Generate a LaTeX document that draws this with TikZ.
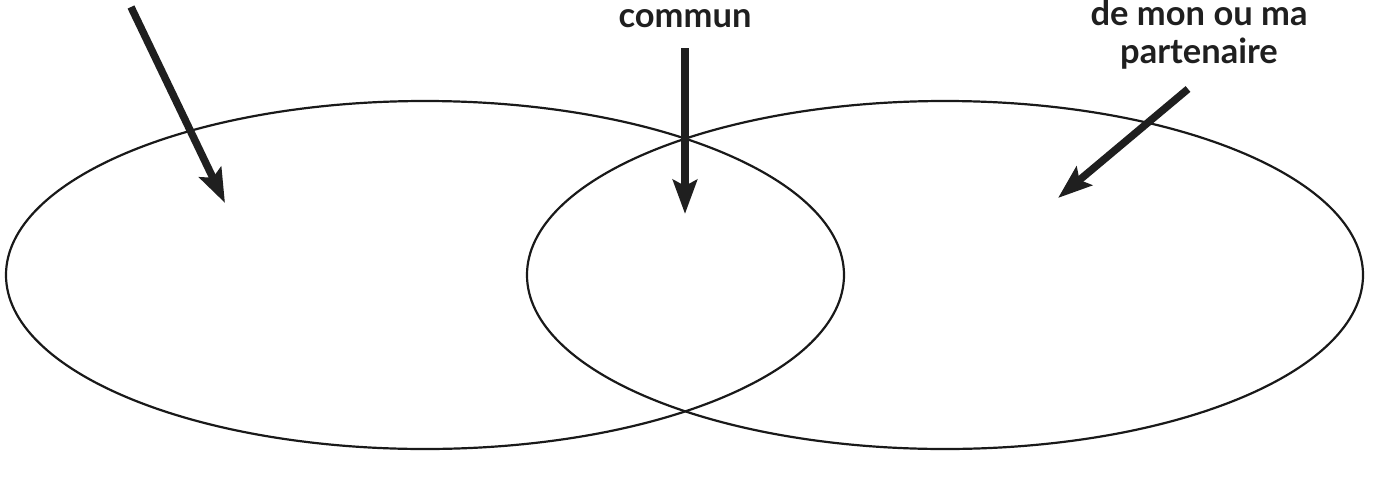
\documentclass[tikz,border=0pt]{standalone}
\usepackage{fontspec}
\setmainfont{Lato}
\usetikzlibrary{arrows.meta}
\tikzset{
  venn/.style={draw=black!90, line width=2.2pt},
  bigarrow/.style={draw=black!88, line width=7.5pt, -{Stealth[length=34pt,width=24pt,inset=6pt]}},
  lbl/.style={font=\bfseries\fontsize{34.5}{38}\selectfont, text=black!88, align=center, inner sep=0pt}
}
\begin{document}
\begin{tikzpicture}[x=1pt,y=-1pt]
\useasboundingbox (0,0) rectangle (1376,477);
\draw[venn] (425,275) ellipse [x radius=419pt, y radius=174pt];
\draw[venn] (945,275) ellipse [x radius=418pt, y radius=174pt];
\node[lbl, anchor=base] (commun) at (685,27) {commun};
\node[lbl, anchor=base] (part1) at (1199,25) {de mon ou ma};
\node[lbl, anchor=base] (part2) at (1199,63) {partenaire};
\coordinate (a1s) at (131,7);
\coordinate (a1e) at (225,203);
\coordinate (a2s) at (685,48);
\coordinate (a2e) at (685,214);
\coordinate (a3s) at (1188,89);
\coordinate (a3e) at (1058,198);
\draw[bigarrow] (a1s) -- (a1e);
\draw[bigarrow] (a2s) -- (a2e);
\draw[bigarrow] (a3s) -- (a3e);
\end{tikzpicture}
\end{document}
